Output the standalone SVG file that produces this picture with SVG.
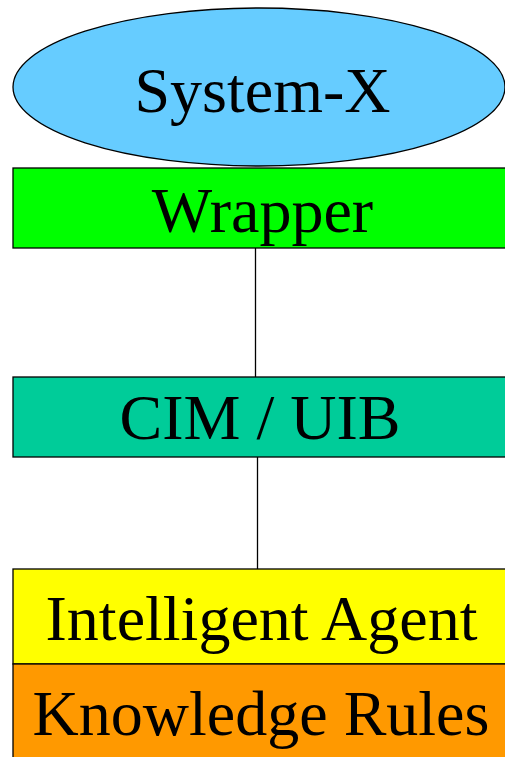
<svg xmlns="http://www.w3.org/2000/svg" width="505" height="757" viewBox="0 0 505 757">
<style>
.n{stroke:#000;stroke-width:1.3}
.t{font-family:"Liberation Serif","Times New Roman",serif;font-size:64px;fill:#000;text-anchor:middle}
.c{stroke:#000;stroke-width:1.3;fill:none}
</style>
<rect width="505" height="757" fill="#fff"/>
<g id="connectors">
<line class="c" x1="255.5" y1="248" x2="255.5" y2="377"/>
<line class="c" x1="257.5" y1="457" x2="257.5" y2="569"/>
</g>
<g id="system-x">
<ellipse class="n" cx="259" cy="87" rx="246" ry="79" fill="#66CCFF"/>
<text class="t" x="262.5" y="112">System-X</text>
</g>
<g id="wrapper">
<rect class="n" x="13" y="168" width="500" height="80" fill="#00FF00"/>
<text class="t" x="262.5" y="232">Wrapper</text>
</g>
<g id="cim-uib">
<rect class="n" x="13" y="377" width="500" height="80" fill="#00CC99"/>
<text class="t" x="260" y="439">CIM / UIB</text>
</g>
<g id="intelligent-agent">
<rect class="n" x="13" y="569" width="500" height="95" fill="#FFFF00"/>
<text class="t" x="261.5" y="640">Intelligent Agent</text>
</g>
<g id="knowledge-rules">
<rect class="n" x="13" y="664" width="500" height="100" fill="#FF9900"/>
<text class="t" x="261" y="735">Knowledge Rules</text>
</g>
</svg>
